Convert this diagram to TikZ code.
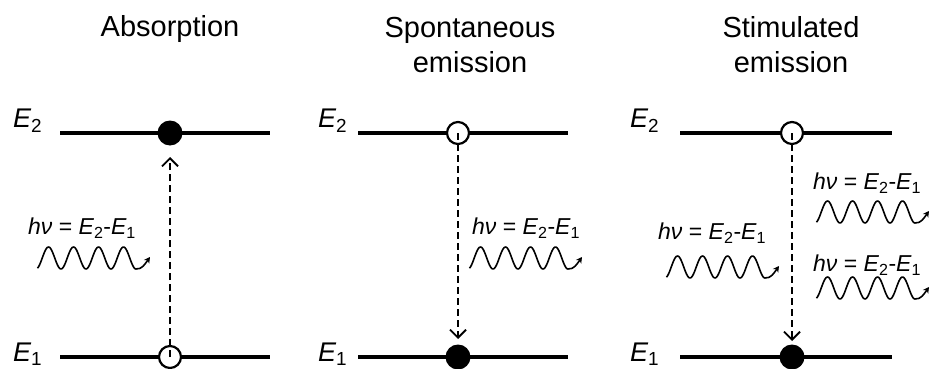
\documentclass[tikz,border=0pt]{standalone}
\usepackage{fontspec}
\setmainfont{Liberation Sans}
\usetikzlibrary{arrows.meta}
\tikzset{
  level/.style={line width=4.5pt},
  opendot/.style={circle, draw, line width=2.2pt, fill=white, minimum size=22pt, inner sep=0pt},
  filldot/.style={circle, fill=black, minimum size=25pt, inner sep=0pt},
  trans/.style={line width=2.1pt, dash pattern=on 7pt off 4pt,
    -{Straight Barb[length=8pt,width=16pt,line width=1.8pt]}},
  titletext/.style={font=\fontsize{29}{35}\selectfont, align=center, inner sep=0pt, anchor=base},
  elabel/.style={font=\fontsize{27}{30}\selectfont\itshape, anchor=base west, inner sep=0pt},
  hvlabel/.style={font=\fontsize{23}{26}\selectfont, anchor=west, inner sep=0pt},
  photon/.pic={
    \draw[line width=1.6pt, line join=round, -{Stealth[length=6pt,width=6.5pt]}]
      plot[domain=0.06:4, samples=100, smooth] ({\x*25},{11*cos(\x*360)})
      .. controls (106,11.5) and (109,6) .. (114,-1);
  }
}
\newcommand{\hvtext}{{\itshape hν} = {\itshape E}\textsubscript{2}-{\itshape E}\textsubscript{1}}
\begin{document}
\begin{tikzpicture}[x=1pt,y=-1pt]
\useasboundingbox (0,0) rectangle (932,369);

% titles
\node[titletext] (t1) at (170,37) {Absorption};
\node[titletext] (t2) at (470,73) {Spontaneous\\emission};
\node[titletext] (t3) at (791,73) {Stimulated\\emission};

% ---------- Absorption ----------
\coordinate (a2l) at (60,133); \coordinate (a2r) at (270,133);
\coordinate (a1l) at (60,357); \coordinate (a1r) at (270,357);
\draw[level] (a2l) -- (a2r);
\draw[level] (a1l) -- (a1r);
\node[elabel] (aE2) at (13,128) {E\textsubscript{\upshape 2}};
\node[elabel] (aE1) at (13,361) {E\textsubscript{\upshape 1}};
\node[filldot] (aup) at (170,133) {};
\node[opendot] (alo) at (170,357) {};
\coordinate (atip) at (170,157);
\draw[trans] (alo.center) -- (atip);
\node[hvlabel] (ahv) at (28,228) {\hvtext};
\pic (aw) at (36,258) {photon};

% ---------- Spontaneous emission ----------
\coordinate (b2l) at (358,133); \coordinate (b2r) at (568,133);
\coordinate (b1l) at (358,357); \coordinate (b1r) at (568,357);
\draw[level] (b2l) -- (b2r);
\draw[level] (b1l) -- (b1r);
\node[elabel] (bE2) at (318,128) {E\textsubscript{\upshape 2}};
\node[elabel] (bE1) at (318,361) {E\textsubscript{\upshape 1}};
\node[opendot] (bup) at (458,133) {};
\node[filldot] (blo) at (458,357) {};
\coordinate (btip) at (458,339);
\draw[trans] (bup.center) -- (btip);
\node[hvlabel] (bhv) at (472,228) {\hvtext};
\pic (bw) at (468,258) {photon};

% ---------- Stimulated emission ----------
\coordinate (c2l) at (680,133); \coordinate (c2r) at (892,133);
\coordinate (c1l) at (680,357); \coordinate (c1r) at (892,357);
\draw[level] (c2l) -- (c2r);
\draw[level] (c1l) -- (c1r);
\node[elabel] (cE2) at (630,128) {E\textsubscript{\upshape 2}};
\node[elabel] (cE1) at (630,361) {E\textsubscript{\upshape 1}};
\node[opendot] (cup) at (792,133) {};
\node[filldot] (clo) at (792,357) {};
\coordinate (ctip) at (792,341);
\draw[trans] (cup.center) -- (ctip);
\node[hvlabel] (chv) at (658,233) {\hvtext};
\pic (cw) at (665,267) {photon};
\node[hvlabel] (chv1) at (813,183) {\hvtext};
\pic (cw1) at (815,212) {photon};
\node[hvlabel] (chv2) at (813,265) {\hvtext};
\pic (cw2) at (815,288) {photon};
\end{tikzpicture}
\end{document}
